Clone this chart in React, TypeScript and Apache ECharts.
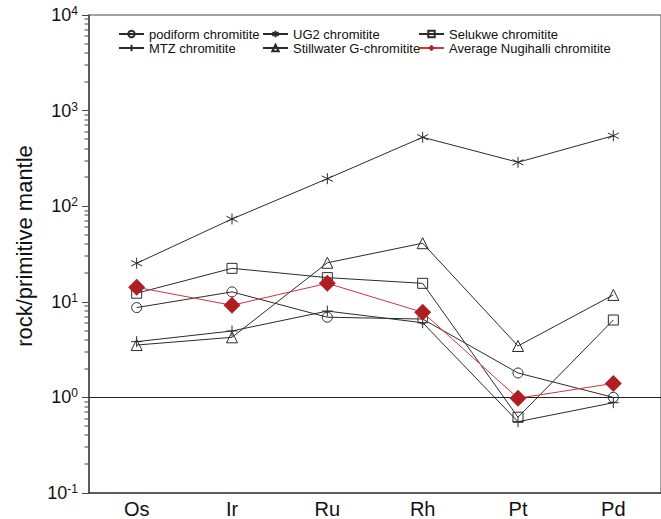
import React, { useEffect, useRef } from "react";
import * as echarts from "echarts";

const categories = ["Os", "Ir", "Ru", "Rh", "Pt", "Pd"];

const podiform = [8.7, 12.7, 6.9, 6.6, 1.8, 1.0];
const ug2 = [25.3, 73.5, 194, 526, 288, 546];
const selukwe = [12.3, 22.4, 17.9, 15.6, 0.62, 6.45];
const mtz = [3.83, 4.95, 8.0, 6.04, 0.557, 0.88];
const stillwater = [3.53, 4.25, 25.6, 41, 3.45, 11.8];
const nugihalli = [14.2, 9.19, 15.6, 7.77, 0.98, 1.4];

const minorTickValues = [
  0.2, 0.3, 0.4, 0.5, 0.6, 0.7, 0.8, 0.9,
  2, 3, 4, 5, 6, 7, 8, 9,
  20, 30, 40, 50, 60, 70, 80, 90,
  200, 300, 400, 500, 600, 700, 800, 900,
  2000, 3000, 4000, 5000, 6000, 7000, 8000, 9000,
];

const FONT = "Liberation Sans, Arial, Helvetica, sans-serif";
const DARK = "#2b2b2b";
const RED = "#b01e23";
const CLEAR = "rgba(255,255,255,0)";
const GRID_LEFT = 89;

const plusPath = "path://M5,0L5,10M0,5L10,5";
const starPath = "path://M5,0L5,10M0.7,2.5L9.3,7.5M0.7,7.5L9.3,2.5";

export default function App() {
  const ref = useRef<HTMLDivElement>(null);

  useEffect(() => {
    if (!ref.current) return;
    const chart = echarts.init(ref.current, null, { renderer: "svg" });

    const openStyle = { color: CLEAR, borderColor: DARK, borderWidth: 1 };
    const lineStyle = { color: DARK, width: 1 };

    const mk = (name: string, data: number[], symbol: string, size: number, extra: any = {}) => ({
      name,
      type: "line",
      data,
      symbol,
      symbolSize: size,
      showAllSymbol: true,
      itemStyle: openStyle,
      lineStyle,
      emphasis: { disabled: true },
      z: 3,
      ...extra,
    });

    const legendText = { fontFamily: FONT, fontSize: 13, color: "#111", lineHeight: 14 };
    const legendBase = {
      orient: "vertical",
      top: 22,
      itemWidth: 25,
      itemHeight: 8,
      itemGap: 0,
      selectedMode: false,
      textStyle: legendText,
    };

    const yLabel = {
      type: "text",
      id: "yname",
      x: 24,
      y: 246,
      rotation: Math.PI / 2,
      style: {
        text: "rock/primitive mantle",
        fontFamily: FONT,
        fontSize: 22,
        fill: "#111",
        align: "center",
        verticalAlign: "middle",
      },
    };

    chart.setOption({
      animation: false,
      backgroundColor: "#fff",
      grid: {
        left: GRID_LEFT,
        top: 15,
        width: 576,
        height: 478,
        show: true,
        borderColor: "#444",
        borderWidth: 1,
      },
      legend: [
        { ...legendBase, left: 113, data: ["podiform chromitite", "MTZ chromitite"] },
        { ...legendBase, left: 257, data: ["UG2 chromitite", "Stillwater G-chromitite"] },
        { ...legendBase, left: 413, data: ["Selukwe chromitite", "Average Nugihalli chromitite"] },
      ],
      xAxis: {
        type: "category",
        data: categories,
        boundaryGap: true,
        axisLine: { lineStyle: { color: "#444", width: 1.5 } },
        axisTick: { alignWithLabel: true, length: 5, lineStyle: { color: "#444" } },
        axisLabel: { fontFamily: FONT, fontSize: 20, color: "#111", margin: 6 },
        splitLine: { show: false },
      },
      yAxis: {
        type: "log",
        logBase: 10,
        min: 0.1,
        max: 10000,
        splitNumber: 5,
        axisLine: { show: true, lineStyle: { color: "#444", width: 1.5 } },
        axisTick: { show: true, length: 7, lineStyle: { color: "#444", width: 1 } },
        splitLine: { show: false },
        axisLabel: {
          margin: 11,
          formatter: (v: number) => {
            const e = Math.round(Math.log10(v));
            return "{b|10}{s|" + e + "}";
          },
          rich: {
            b: { fontFamily: FONT, fontSize: 18, color: "#111", lineHeight: 20 },
            s: { fontFamily: FONT, fontSize: 12, color: "#111", verticalAlign: "top", lineHeight: 12 },
          },
        },
      },
      graphic: [yLabel],
      series: [
        mk("podiform chromitite", podiform, "circle", 10, {
          markLine: {
            silent: true,
            symbol: "none",
            label: { show: false },
            lineStyle: { color: "#222", type: "solid", width: 1.2 },
            data: [{ yAxis: 1 }],
          },
        }),
        mk("UG2 chromitite", ug2, starPath, 11),
        mk("Selukwe chromitite", selukwe, "rect", 10),
        mk("MTZ chromitite", mtz, plusPath, 11),
        mk("Stillwater G-chromitite", stillwater, "triangle", 11),
        mk("Average Nugihalli chromitite", nugihalli, "diamond", 17, {
          itemStyle: { color: RED, borderColor: RED, borderWidth: 0 },
          lineStyle: { color: "#c8383c", width: 1 },
          z: 5,
        }),
      ],
    });

    // minor log ticks placed through the y axis scale
    const ticks = minorTickValues.map((v, i) => {
      const y = chart.convertToPixel({ yAxisIndex: 0 }, v) as number;
      return {
        type: "rect",
        id: "mt" + i,
        silent: true,
        shape: { x: GRID_LEFT - 4.5, y: Math.round(y) - 0.5, width: 4.5, height: 1 },
        style: { fill: "#444" },
        z: 10,
      };
    });
    chart.setOption({ graphic: [yLabel, ...ticks] });

    return () => chart.dispose();
  }, []);

  return (
    <div
      ref={ref}
      style={{ position: "absolute", left: 0, top: 0, width: 661, height: 519 }}
    />
  );
}
